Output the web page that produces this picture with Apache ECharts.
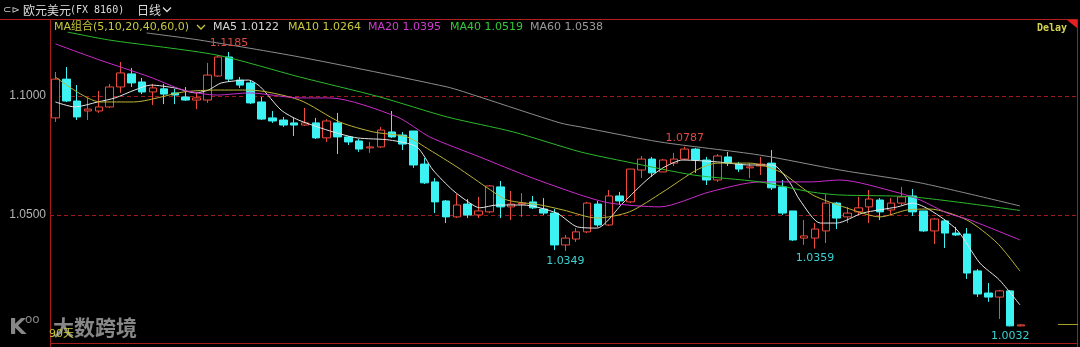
<!DOCTYPE html>
<html><head><meta charset="utf-8">
<script src="https://cdn.jsdelivr.net/npm/echarts@6/dist/echarts.min.js"></script>
<style>html,body{margin:0;padding:0;background:#000}#c{width:1080px;height:347px}</style>
</head><body><div id="c"></div>
<script>
// ---- data (EUR/USD daily, 90 sessions) ----
const opens  = [1.0908,1.1071,1.0979,1.0937,1.0937,1.0954,1.1038,1.1093,1.1059,1.1017,1.1030,1.1013,1.0996,1.0983,1.0983,1.1084,1.1164,1.1067,1.1055,1.0975,1.0908,1.0899,1.0887,1.0878,1.0887,1.0824,1.0887,1.0828,1.0811,1.0782,1.0786,1.0849,1.0836,1.0853,1.0714,1.0639,1.0559,1.0492,1.0546,1.0500,1.0513,1.0618,1.0534,1.0546,1.0555,1.0525,1.0508,1.0374,1.0399,1.0429,1.0546,1.0458,1.0580,1.0555,1.0689,1.0735,1.0681,1.0718,1.0735,1.0777,1.0731,1.0647,1.0744,1.0714,1.0698,1.0706,1.0718,1.0618,1.0517,1.0403,1.0403,1.0433,1.0550,1.0492,1.0513,1.0534,1.0563,1.0521,1.0550,1.0580,1.0517,1.0433,1.0475,1.0424,1.0420,1.0265,1.0172,1.0155,1.0181,1.0034];
const closes = [1.1071,1.0979,1.0912,1.0945,1.0954,1.1038,1.1097,1.1055,1.1017,1.1034,1.1008,1.1004,1.0983,1.0992,1.1088,1.1164,1.1071,1.1046,1.0971,1.0903,1.0895,1.0878,1.0878,1.0887,1.0824,1.0895,1.0828,1.0807,1.0777,1.0786,1.0857,1.0828,1.0798,1.0710,1.0635,1.0555,1.0492,1.0542,1.0500,1.0517,1.0622,1.0534,1.0546,1.0550,1.0530,1.0508,1.0374,1.0403,1.0429,1.0550,1.0458,1.0580,1.0559,1.0693,1.0735,1.0677,1.0731,1.0735,1.0777,1.0731,1.0647,1.0748,1.0718,1.0693,1.0702,1.0714,1.0614,1.0508,1.0395,1.0412,1.0441,1.0550,1.0487,1.0508,1.0530,1.0567,1.0513,1.0550,1.0576,1.0513,1.0433,1.0483,1.0424,1.0416,1.0256,1.0168,1.0155,1.0181,1.0034,1.0038];
const lows   = [1.0891,1.0975,1.0899,1.0899,1.0929,1.0950,1.1013,1.1038,1.1008,1.0962,1.0966,1.0966,1.0979,1.0945,1.0971,1.1080,1.1059,1.1034,1.0966,1.0899,1.0887,1.0870,1.0832,1.0874,1.0819,1.0807,1.0756,1.0794,1.0765,1.0761,1.0782,1.0824,1.0773,1.0698,1.0630,1.0508,1.0466,1.0487,1.0487,1.0487,1.0508,1.0487,1.0479,1.0492,1.0525,1.0500,1.0353,1.0349,1.0387,1.0424,1.0450,1.0454,1.0542,1.0550,1.0655,1.0660,1.0681,1.0706,1.0731,1.0677,1.0626,1.0639,1.0706,1.0681,1.0655,1.0668,1.0605,1.0500,1.0391,1.0374,1.0359,1.0382,1.0441,1.0466,1.0504,1.0466,1.0479,1.0500,1.0542,1.0496,1.0429,1.0378,1.0361,1.0412,1.0231,1.0155,1.0135,1.0063,1.0032,1.0032];
const highs  = [1.1101,1.1122,1.1046,1.0992,1.1021,1.1051,1.1143,1.1118,1.1076,1.1051,1.1051,1.1030,1.1038,1.1013,1.1139,1.1172,1.1185,1.1080,1.1067,1.0996,1.0937,1.0912,1.0908,1.0950,1.0908,1.0903,1.0929,1.0832,1.0819,1.0807,1.0870,1.0937,1.0849,1.0853,1.0739,1.0655,1.0563,1.0588,1.0567,1.0576,1.0626,1.0643,1.0601,1.0592,1.0580,1.0571,1.0525,1.0416,1.0445,1.0555,1.0559,1.0605,1.0597,1.0693,1.0748,1.0744,1.0735,1.0761,1.0787,1.0782,1.0744,1.0756,1.0765,1.0723,1.0718,1.0744,1.0773,1.0647,1.0517,1.0479,1.0466,1.0588,1.0555,1.0534,1.0576,1.0605,1.0571,1.0571,1.0618,1.0609,1.0517,1.0487,1.0483,1.0450,1.0445,1.0273,1.0214,1.0185,1.0185,1.0040];

// moving-average lines as [session position, value]
const ma5  = [[0,1.0975],[1.8,1.0954],[3.9,1.0975],[5.5,1.0992],[7.3,1.1025],[8.8,1.1046],[11.0,1.1034],[12.9,1.1013],[14.1,1.1025],[15.3,1.1055],[17.8,1.1067],[18.9,1.1038],[20.8,1.0941],[22.4,1.0899],[25.6,1.0849],[27.8,1.0824],[30.8,1.0815],[33.3,1.0786],[34.8,1.0689],[36.6,1.0605],[38.2,1.0550],[39.1,1.0530],[40.7,1.0542],[43.1,1.0542],[46.2,1.0508],[48.1,1.0450],[49.9,1.0445],[52.3,1.0550],[54.5,1.0647],[56.0,1.0698],[57.8,1.0731],[61.0,1.0723],[64.0,1.0710],[66.1,1.0710],[67.7,1.0635],[68.6,1.0563],[70.5,1.0466],[72.0,1.0466],[74.4,1.0508],[77.6,1.0534],[79.0,1.0550],[80.6,1.0521],[83.1,1.0437],[85.2,1.0298],[87.0,1.0227],[88.9,1.0122]];
const ma10 = [[0,1.1080],[4.1,1.0975],[7.2,1.0975],[11.8,1.1017],[14.9,1.1025],[17.9,1.1025],[22.5,1.0983],[26.2,1.0891],[29.3,1.0849],[32.4,1.0828],[34.5,1.0773],[37.0,1.0702],[40.1,1.0605],[41.6,1.0563],[44.7,1.0542],[46.8,1.0521],[49.9,1.0487],[52.9,1.0513],[56.0,1.0597],[59.1,1.0689],[61.0,1.0718],[64.0,1.0718],[66.8,1.0681],[69.8,1.0584],[72.9,1.0530],[76.0,1.0492],[78.5,1.0521],[80.6,1.0525],[84.0,1.0479],[86.8,1.0382],[88.9,1.0264]];
const ma20 = [[0,1.1219],[4.1,1.1151],[8.7,1.1080],[11.8,1.1025],[14.9,1.1004],[17.9,1.1013],[22.5,1.0992],[25.3,1.0992],[31.5,1.0912],[34.5,1.0828],[39.1,1.0744],[43.7,1.0660],[48.4,1.0584],[51.1,1.0550],[55.7,1.0534],[60.3,1.0597],[64.9,1.0639],[69.6,1.0639],[72.3,1.0647],[77.8,1.0592],[79.7,1.0563],[82.2,1.0508],[84.3,1.0479],[88.9,1.0395]];
const ma40 = [[1.1,1.1269],[5.0,1.1235],[14.9,1.1172],[22.5,1.1080],[29.9,1.0996],[36.1,1.0912],[42.2,1.0849],[48.4,1.0765],[52.7,1.0723],[58.8,1.0668],[64.9,1.0639],[69.6,1.0597],[72.3,1.0584],[79.0,1.0576],[88.9,1.0519]];
const ma60 = [[8.4,1.1265],[13.3,1.1235],[22.5,1.1164],[36.1,1.1038],[39.1,1.0996],[46.5,1.0887],[48.4,1.0870],[55.7,1.0807],[64.9,1.0752],[72.3,1.0689],[79.7,1.0635],[88.9,1.0538]];

const maNames  = ['MA5','MA10','MA20','MA40','MA60'];
const maLast   = ['1.0122','1.0264','1.0395','1.0519','1.0538'];
const yTicks   = [1.05, 1.10];
const highMarks = [16, 58];       // sessions carrying a high label
const lowMarks  = [47, 70, 88];   // sessions carrying a low label
const yRange   = [0.9962, 1.1269];

// ---------------------------------------------------------------
const days = opens.map((_, i) => 'D' + (i + 1));
const candles = opens.map((o, i) => [o, closes[i], lows[i], highs[i]]);
const RED = '#ee4a3e', CYAN = '#3cf2f2', FRAME = '#a81c1c';
const maColors = ['#e6e6e6', '#bdb436', '#cc2ccc', '#2cba2c', '#8c8c8c'];
const maText   = ['#d6d6d6', '#c8c83c', '#d23ad2', '#36c836', '#9a9a9a'];
const maData   = [ma5, ma10, ma20, ma40, ma60];

const chart = echarts.init(document.getElementById('c'), null, {renderer: 'canvas'});

const markData = highMarks.map(i => ({
  coord: [i, highs[i]], value: highs[i].toFixed(4),
  label: {color: '#dc4a42', offset: [0, -9]}
})).concat(lowMarks.map(i => ({
  coord: [i, lows[i]], value: lows[i].toFixed(4),
  label: {color: '#3cd0d0', offset: [0, 10]}
})));

const legendX = [213, 288, 368, 450, 530];
const GRAYW = 'rgba(150,150,150,0.9)';
const graphics = [
  // header
  {type:'text', x:3, y:10, style:{text:'⊂⊳', fill:'#c8c8c8', font:'10px "DejaVu Sans"', verticalAlign:'middle'}},
  {type:'text', x:23, y:10, style:{text:'欧元美元', fill:'#dcdcdc', font:'12px "Noto Sans CJK SC"', verticalAlign:'middle'}},
  {type:'text', x:70, y:10, style:{text:'(FX 8160)', fill:'#dcdcdc', font:'10px "DejaVu Sans Mono"', verticalAlign:'middle'}},
  {type:'text', x:137, y:10, style:{text:'日线', fill:'#dcdcdc', font:'12px "Noto Sans CJK SC"', verticalAlign:'middle'}},
  {type:'polyline', shape:{points:[[163,7.5],[167,11.5],[171,7.5]]}, style:{stroke:'#dcdcdc', lineWidth:1.3, fill:null}},
  // frame
  {type:'line', shape:{x1:0, y1:19.5, x2:1078, y2:19.5}, style:{stroke:'#b41e1e', lineWidth:1}},
  {type:'line', shape:{x1:50.5, y1:19, x2:50.5, y2:347}, style:{stroke:FRAME, lineWidth:1}},
  {type:'line', shape:{x1:1077.5, y1:19, x2:1077.5, y2:347}, style:{stroke:FRAME, lineWidth:1}},
  {type:'line', shape:{x1:50, y1:343.5, x2:1078, y2:343.5}, style:{stroke:FRAME, lineWidth:1}},
  {type:'polygon', shape:{points:[[1067,20],[1077,20],[1077,28]]}, style:{fill:'#e42020'}},
  {type:'text', x:1037, y:28, style:{text:'Delay', fill:'#d2d250', font:'bold 10px "DejaVu Sans Mono"', verticalAlign:'middle'}},
  // legend
  {type:'text', x:54, y:27, style:{text:'MA组合(5,10,20,40,60,0)', fill:'#c8c83c', font:'11px "DejaVu Sans", "Noto Sans CJK SC"', verticalAlign:'middle'}},
  {type:'polyline', shape:{points:[[197,25],[201,29],[205,25]]}, style:{stroke:'#c8c83c', lineWidth:1.3, fill:null}},
  // footer
  {type:'text', x:53, y:327, style:{text:'大数跨境', fill:GRAYW, font:'bold 21px "Noto Sans CJK SC"', verticalAlign:'middle'}},
  {type:'text', x:9, y:328, style:{text:'K', fill:GRAYW, font:'bold 22px "DejaVu Sans"', verticalAlign:'middle'}},
  {type:'text', x:25, y:320, style:{text:'oo', fill:GRAYW, font:'12px "DejaVu Sans"', verticalAlign:'middle'}},
  {type:'text', x:49, y:334, style:{text:'90天', fill:'#c8c83c', font:'11px "DejaVu Sans", "Noto Sans CJK SC"', verticalAlign:'middle'}},
  {type:'line', shape:{x1:1058, y1:324.5, x2:1078, y2:324.5}, style:{stroke:'#a8a020', lineWidth:1}}
];
maNames.forEach((n, k) => graphics.push({type:'text', x:legendX[k], y:27,
  style:{text:n + ' ' + maLast[k], fill:maText[k], font:'11px "DejaVu Sans"', verticalAlign:'middle'}}));

const series = [{
  type: 'candlestick', xAxisIndex: 0, yAxisIndex: 0, data: candles, barWidth: 8,
  itemStyle: {color: '#000', color0: CYAN, borderColor: RED, borderColor0: CYAN, borderWidth: 1},
  markPoint: {symbol: 'circle', symbolSize: 1, itemStyle: {color: 'rgba(0,0,0,0)'},
    label: {show: true, position: 'inside', fontSize: 11, fontFamily: 'DejaVu Sans', formatter: p => p.value},
    data: markData}
}];
maData.forEach((d, k) => series.push({
  type: 'line', xAxisIndex: 1, yAxisIndex: 0, data: d, showSymbol: false, smooth: 0.25,
  lineStyle: {color: maColors[k], width: 1}, z: 3, clip: true
}));

chart.setOption({
  backgroundColor: '#000',
  animation: false,
  grid: [
    {left: 50, width: 976.5, top: 32, height: 311},
    {left: 50, right: 3, top: 96, height: 119}
  ],
  xAxis: [
    {type: 'category', gridIndex: 0, data: days, show: false, boundaryGap: true},
    {type: 'value', gridIndex: 0, min: -0.5, max: days.length - 0.5, show: false},
    {type: 'value', gridIndex: 1, min: 0, max: 1, show: false}
  ],
  yAxis: [
    {type: 'value', gridIndex: 0, min: yRange[0], max: yRange[1], show: false},
    {type: 'value', gridIndex: 1, min: yTicks[0], max: yTicks[yTicks.length - 1], interval: yTicks[1] - yTicks[0],
      axisLine: {show: false}, axisTick: {show: false},
      splitLine: {show: true, lineStyle: {color: '#a01a1a', type: [4, 3], width: 1}},
      axisLabel: {color: '#b4b4b4', fontSize: 12, fontFamily: 'Liberation Sans', margin: 4, formatter: v => v.toFixed(4)}}
  ],
  graphic: {elements: graphics},
  series: series
});
</script></body></html>
